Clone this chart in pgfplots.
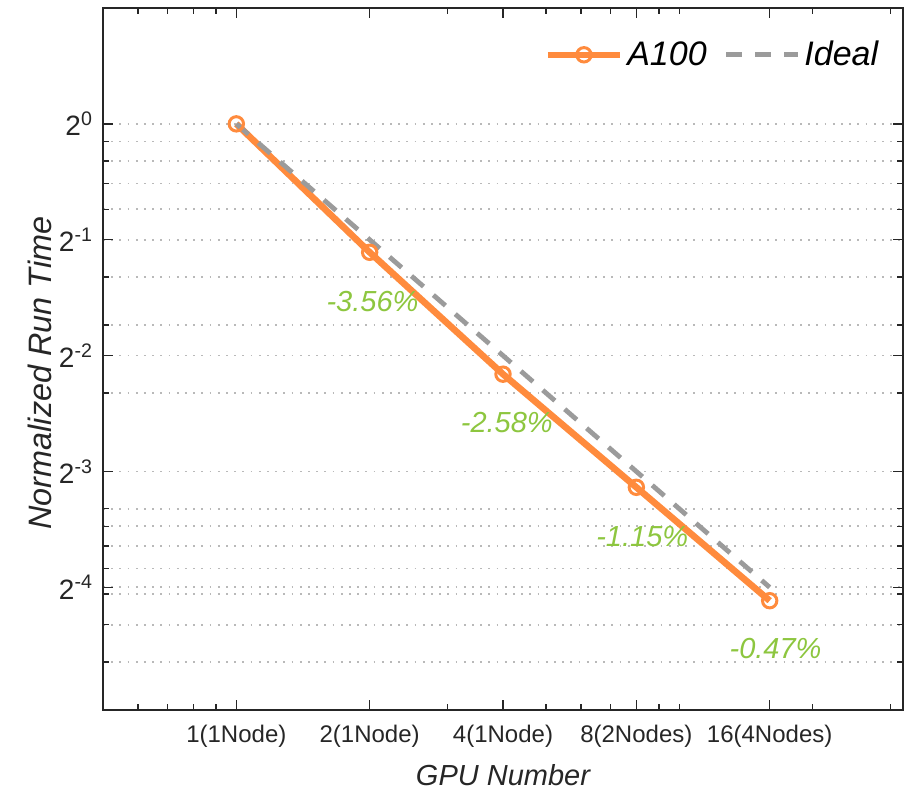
\documentclass[border=0pt]{standalone}
\usepackage{fontspec}
\setmainfont{Liberation Sans}
\usepackage{pgfplots}
\pgfplotsset{compat=1.18}
\definecolor{orng}{RGB}{255,139,61}
\definecolor{grn}{RGB}{141,198,63}
\definecolor{gry}{RGB}{155,155,155}
\definecolor{gridc}{RGB}{185,185,185}
\definecolor{axc}{RGB}{38,38,38}
\begin{document}
\begin{tikzpicture}
\begin{axis}[name=ax, scale only axis, width=400pt, height=351pt,
 xmode=log, ymode=log,
 xmin=0.5, xmax=32, ymin=0.03, ymax=2,
 xtick={1,2,4,8,16},
 xticklabels={1(1Node),2(1Node),4(1Node),8(2Nodes),16(4Nodes)},
 minor xtick={0.6,0.7,0.8,0.9,3,5,6,7,9,10,20,30},
 ytick={1,0.5,0.25,0.125,0.0625},
 yticklabels={2\textsuperscript{0},2\textsuperscript{-1},2\textsuperscript{-2},2\textsuperscript{-3},2\textsuperscript{-4}},
 minor ytick={0.9,0.8,0.7,0.6,0.4,0.3,0.2,0.1,0.09,0.08,0.07,0.06,0.05,0.04},
 ymajorgrids, yminorgrids,
 major grid style={gridc, line width=0.9pt, dash pattern=on 0.9pt off 3.2pt},
 minor grid style={gridc, line width=0.9pt, dash pattern=on 0.9pt off 3.2pt},
 tick style={axc, line width=0.7pt},
 major tick length=5pt, minor tick length=3pt,
 axis line style={axc, line width=0.8pt},
 tick label style={font=\fontsize{12}{14}\selectfont, text=axc},
 xticklabel style={yshift=-4pt},
 yticklabel style={xshift=-1.5pt, font=\fontsize{14}{16}\selectfont},
 xlabel={GPU Number}, ylabel={Normalized Run Time},
 label style={font=\fontsize{14.5}{17}\selectfont\itshape, text=axc},
 xlabel style={at={(axis description cs:0.5,-0.093)}, anchor=center},
 ylabel style={at={(axis description cs:-0.079,0.48)}, anchor=center, font=\fontsize{16.2}{19}\selectfont\itshape},
 legend style={at={(axis description cs:0.982,0.965)}, anchor=north east, draw=none, fill=none,
   font=\fontsize{17}{20}\selectfont\itshape, text=black},
 legend columns=2,
 legend cell align=left,
 /tikz/every even column/.append style={column sep=6.5pt},
 legend image code/.code={\draw[mark repeat=2,mark phase=2] plot coordinates {(0pt,0pt)(18pt,0pt)(36pt,0pt)};},
 clip=false,
]
\addplot[orng, line width=3.3pt, mark=o, mark size=3.6pt,
  mark options={solid, fill=white, line width=1.5pt}]
  coordinates {(1,1) (2,0.4638) (4,0.2237) (8,0.1137) (16,0.0577)};
\addlegendentry{A100}
\addplot[gry, line width=2.4pt, dash pattern=on 8pt off 6.5pt]
  coordinates {(1,1) (2,0.5) (4,0.25) (8,0.125) (16,0.0625)};
\addlegendentry{Ideal}
\node[text=grn, font=\fontsize{14.5}{16}\selectfont\itshape] at (axis cs:2.03,0.3456) {-3.56\%};
\node[text=grn, font=\fontsize{14.5}{16}\selectfont\itshape] at (axis cs:4.08,0.1677) {-2.58\%};
\node[text=grn, font=\fontsize{14.5}{16}\selectfont\itshape] at (axis cs:8.25,0.0845) {-1.15\%};
\node[text=grn, font=\fontsize{14.5}{16}\selectfont\itshape] at (axis cs:16.5,0.0433) {-0.47\%};
\end{axis}
\path[use as bounding box] ([xshift=-51.5pt,yshift=-41.5pt]ax.south west) rectangle ([xshift=2pt,yshift=4pt]ax.north east);
\end{tikzpicture}
\end{document}
